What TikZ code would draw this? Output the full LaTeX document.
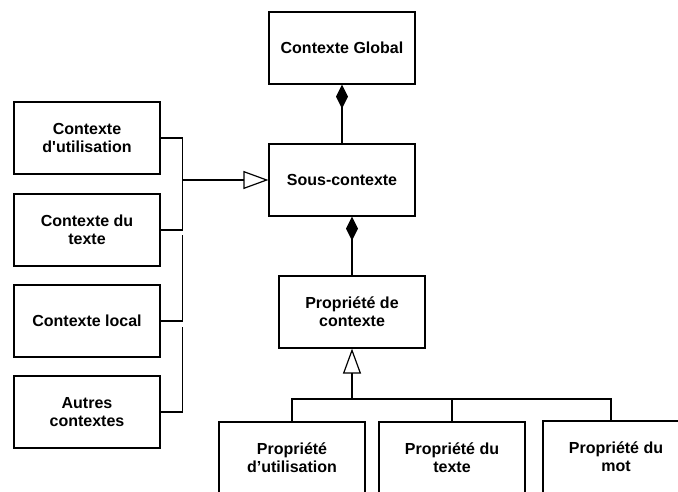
\documentclass[tikz,border=0pt]{standalone}
\usepackage{fontspec}
\newfontfamily\umlfont{Liberation Sans}[Ligatures=NoCommon]
\usepackage{tikz}
\usetikzlibrary{arrows.meta}

\begin{document}
\begin{tikzpicture}[x=1pt,y=-1pt,
    classe/.style={draw,line width=1.2pt,minimum width=146pt,minimum height=72pt,
        align=center,inner sep=2pt,font=\umlfont\bfseries\fontsize{16}{18}\selectfont},
    lien/.style={line width=1.2pt},
    compo/.style={lien,{Diamond[length=24pt,width=12pt]}-},
    herit/.style={lien,-{Triangle[open,length=25pt,width=18pt]}}
]
    \useasboundingbox (0,0) rectangle (678,492);
    \clip (0,0) rectangle (678,492);
    % classes
    \node[classe] (glob) at (342,48) {Contexte Global};
    \node[classe] (sous) at (342,180) {Sous-contexte};
    \node[classe] (ctxu) at (87,138) {Contexte\\d\textquotesingle utilisation};
    \node[classe] (ctxt) at (87,230) {Contexte du\\texte};
    \node[classe] (ctxl) at (87,321) {Contexte local};
    \node[classe] (ctxa) at (87,412) {Autres\\contextes};
    \node[classe] (propc) at (352,312) {Propriété de\\contexte};
    \node[classe] (propu) at (292,458) {Propriété\\d’utilisation};
    \node[classe] (propt) at (452,458) {Propriété du\\texte};
    \node[classe] (propm) at (616,457) {Propriété du\\mot};
    % compositions
    \draw[compo] (glob.south) -- (sous.north);
    \draw[compo] (sous.south -| propc.north) -- (propc.north);
    % sous-contextes
    \coordinate (jc) at (182,180);
    \draw[lien] (ctxu.east) -- ++(22,0) |- (ctxt.east);
    \draw[herit] (jc) -- (sous.west);
    \draw[lien] (ctxl.east) -- ++(22,0) -- ++(0,-86);
    \draw[lien] (ctxa.east) -- ++(22,0) -- ++(0,-85);
    % proprietes
    \coordinate (bar) at (352,399);
    \draw[herit] (bar) -- (propc.south);
    \draw[lien] (propu.north) |- (bar) -| ([xshift=-5pt]propm.north);
    \draw[lien] (propt.north) -- (propt.north |- bar);
\end{tikzpicture}
\end{document}
